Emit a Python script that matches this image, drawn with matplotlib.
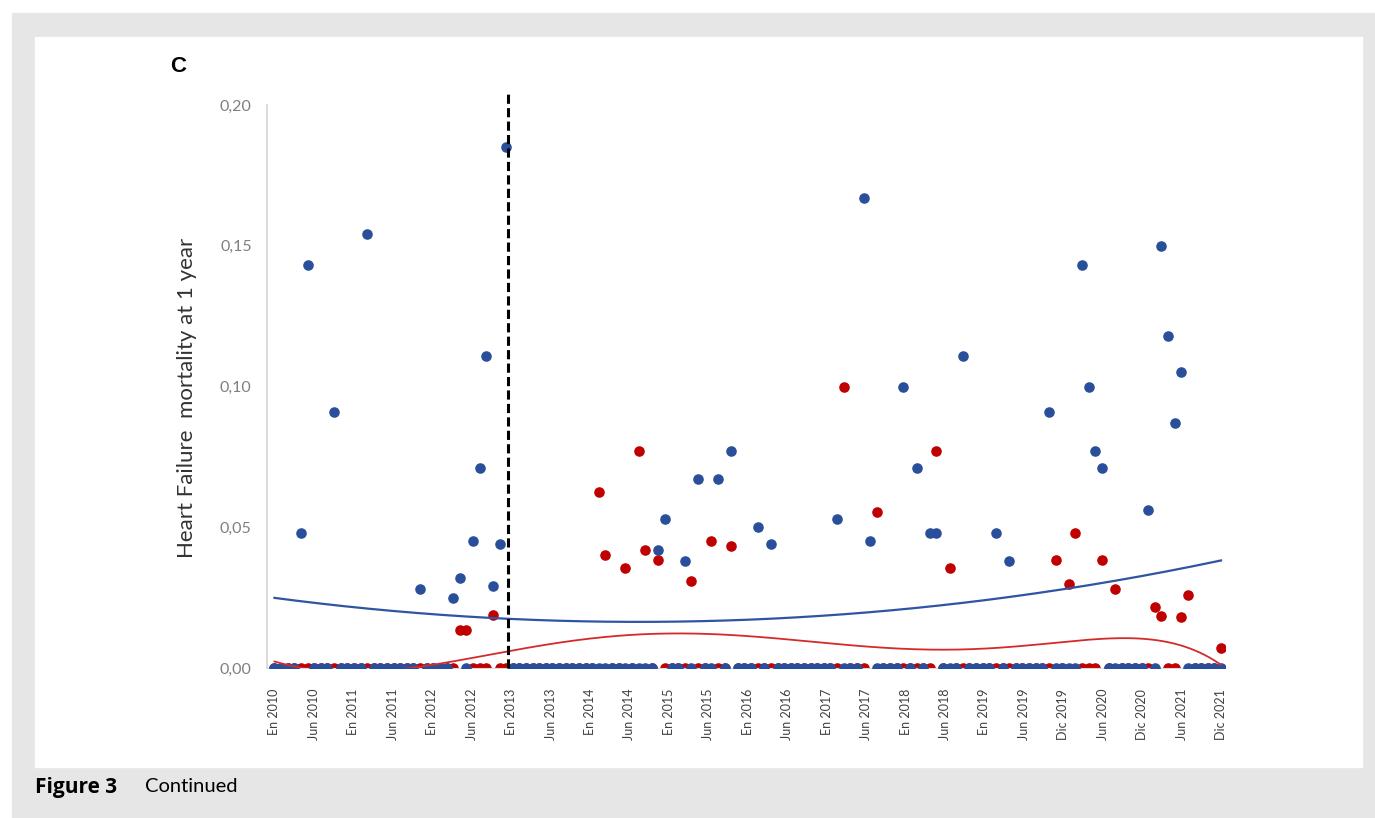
import numpy as np
import matplotlib
matplotlib.use("Agg")
import matplotlib.pyplot as plt
from matplotlib.patches import Rectangle

# monthly values, one row per year (Jan..Dec), 2010-2021
blue_vals = [
    [0, 0, 0, 0, 0.048, 0.143, 0, 0, 0, 0.091, 0, 0],          # 2010
    [0, 0, 0.154, 0, 0, 0, 0, 0, 0, 0, 0.028, 0],              # 2011
    [0, 0, 0, 0.025, 0.032, 0, 0.045, 0.071, 0.111, 0.029, 0.044, 0.185],  # 2012
    [0, 0, 0, 0, 0, 0, 0, 0, 0, 0, 0, 0],                      # 2013
    [0, 0, 0, 0, 0, 0, 0, 0, 0, 0, 0.042, 0.053],              # 2014
    [0, 0, 0.038, 0, 0.067, 0, 0, 0.067, 0, 0.077, 0, 0],      # 2015
    [0, 0.050, 0, 0.044, 0, 0, 0, 0, 0, 0, 0, 0],              # 2016
    [0, 0.053, 0, 0, 0, 0.167, 0.045, 0, 0, 0, 0, 0.100],      # 2017
    [0, 0.071, 0, 0.048, 0.048, 0, 0, 0, 0.111, 0, 0, 0],      # 2018
    [0, 0.048, 0, 0.038, 0, 0, 0, 0, 0, 0.091, 0, 0],          # 2019
    [0, 0, 0.143, 0.100, 0.077, 0.071, 0, 0, 0, 0, 0, 0],      # 2020
    [0.056, 0, 0.150, 0.118, 0.087, 0.105, 0, 0, 0, 0, 0, 0],  # 2021
]
red_vals = [
    [0, 0, 0, 0, 0, 0, 0, 0, 0, 0, 0, 0],                      # 2010
    [0, 0, 0, 0, 0, 0, 0, 0, 0, 0, 0, 0],                      # 2011
    [0, 0, 0, 0, 0.0135, 0.0135, 0, 0, 0, 0.019, 0, 0],        # 2012
    [0, 0, 0, 0, 0, 0, 0, 0, 0, 0, 0, 0],                      # 2013
    [0, 0.0625, 0.040, 0, 0, 0.0355, 0, 0.077, 0.042, 0, 0.0385, 0],  # 2014
    [0, 0, 0, 0.031, 0, 0, 0.045, 0, 0, 0.0435, 0, 0],         # 2015
    [0, 0, 0, 0, 0, 0, 0, 0, 0, 0, 0, 0],                      # 2016
    [0, 0, 0.100, 0, 0, 0, np.nan, 0.0555, 0, 0, 0, 0],        # 2017
    [0, 0, 0, 0, 0.077, 0, 0.0355, 0, 0, 0, 0, 0],             # 2018
    [0, 0, 0, 0, 0, 0, 0, 0, 0, 0, 0.0385, 0],                 # 2019
    [0.030, 0.048, 0, 0, 0, 0.0385, 0, 0.028, 0, 0, 0, 0],     # 2020
    [0, 0.0215, 0.0185, 0, 0, 0.018, 0.026, 0, 0, 0, 0, 0.007],  # 2021
]
xlabels = ["En 2010", "Jun 2010", "En 2011", "Jun 2011", "En 2012", "Jun 2012",
           "En 2013", "Jun 2013", "En 2014", "Jun 2014", "En 2015", "Jun 2015",
           "En 2016", "Jun 2016", "En 2017", "Jun 2017", "En 2018", "Jun 2018",
           "En 2019", "Jun 2019", "Dic 2019", "Jun 2020", "Dic 2020", "Jun 2021",
           "Dic 2021"]
yticks = [0, 0.05, 0.10, 0.15, 0.20]
cutoff = 35.3  # dashed line, start of 2013

blue = np.array(blue_vals, dtype=float).ravel()
red = np.array(red_vals, dtype=float).ravel()
months = np.arange(len(blue))

BLUE = "#2a4f9a"
RED = "#c00000"

W, H = 1375, 818
fig = plt.figure(figsize=(W / 100, H / 100), dpi=100)
fig.patch.set_facecolor("white")

# grey frame + white panel
fig.patches.append(Rectangle((12 / W, 0), 1 - 12 / W, 1 - 13 / H,
                             transform=fig.transFigure, color="#e5e6e5", zorder=-2))
fig.patches.append(Rectangle((35 / W, 1 - 767 / H), (1362 - 35) / W, (767 - 37) / H,
                             transform=fig.transFigure, color="white", zorder=-1))

ax = fig.add_axes([267 / W, 150 / H, (1225 - 267) / W, (668 - 105) / H])
ax.set_zorder(2)
ax.set_facecolor("none")

# trend lines (polynomial fits)
ok = ~np.isnan(red)
pb = np.polynomial.Polynomial.fit(months, blue, 2)
pr = np.polynomial.Polynomial.fit(months[ok], red[ok], 6)
xs = np.linspace(0, months[-1], 400)

ax.plot(months, red, "o", ms=6.6, color=RED, zorder=2)
ax.plot(months, blue, "o", ms=6.6, color=BLUE, zorder=3)
ax.plot(xs, pb(xs), color="#2f55a2", lw=1.6, zorder=4)
ax.plot(xs, pr(xs), color="#d42a2a", lw=1.3, zorder=4)
ax.axvline(cutoff, ymin=0, ymax=1.023, color="black", lw=2.2,
           dashes=(3, 1.4), clip_on=False, zorder=5)

ax.set_xlim(-1.13, 143.6)
ax.set_ylim(0, 0.20)
ax.set_yticks(yticks)
ax.set_yticklabels([f"{v:.2f}".replace(".", ",") for v in yticks],
                   fontfamily="Lato", fontsize=11.5, color="#7f7f7f")
ax.set_xticks(np.linspace(0, months[-1], len(xlabels)))
ax.set_xticklabels(xlabels, rotation=90, fontfamily="Lato", fontsize=9,
                   color="#404040")
ax.tick_params(axis="y", length=0, pad=11)
ax.tick_params(axis="x", length=0, pad=15)

for s in ["top", "right"]:
    ax.spines[s].set_visible(False)
ax.spines["left"].set_color("#d9d9d9")
ax.spines["left"].set_linewidth(1.3)
ax.spines["bottom"].set_color("#d9d9d9")

fig.text(187 / W, 1 - 398 / H, "Heart Failure  mortality at 1 year", rotation=90,
         ha="center", va="center", fontfamily="Lato", fontsize=16, color="#333333")
fig.text(178 / W, 1 - 67 / H, "C", ha="center", va="center",
         fontfamily="Liberation Sans", fontweight="bold", fontsize=16)
fig.text(35 / W, 1 - 787 / H, "Figure 3", ha="left", va="center",
         fontfamily="Open Sans", fontweight="bold", fontsize=15)
fig.text(145 / W, 1 - 787 / H, "Continued", ha="left", va="center",
         fontfamily="Lato", fontsize=14.5)

fig.savefig("out.png", dpi=100)
